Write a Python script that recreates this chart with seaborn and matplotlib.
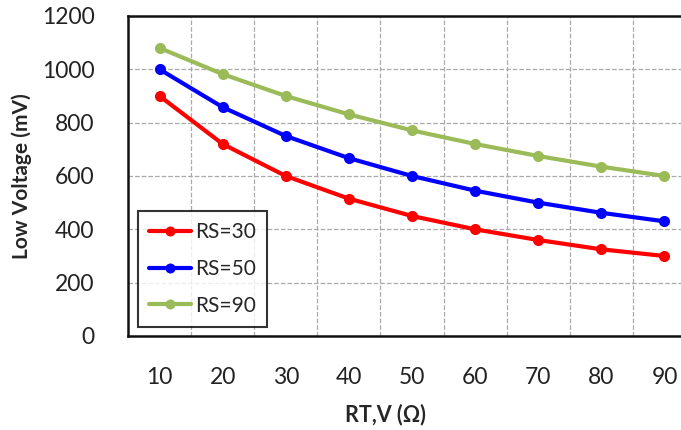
import pandas as pd
import matplotlib.pyplot as plt
import seaborn as sns

# Data
rt_values = [10, 20, 30, 40, 50, 60, 70, 80, 90]
rs30 = [900, 720, 600, 515, 450, 400, 360, 325, 300]
rs50 = [1000, 858, 750, 667, 600, 545, 500, 462, 430]
rs90 = [1080, 982, 900, 831, 771, 720, 675, 635, 600]
series_names = ["RS=30", "RS=50", "RS=90"]
y_ticks = [0, 200, 400, 600, 800, 1000, 1200]

df = pd.DataFrame({
    "RT": rt_values * 3,
    "Voltage": rs30 + rs50 + rs90,
    "Series": [n for n in series_names for _ in rt_values],
})

sns.set_style("white")
plt.rcParams["font.family"] = ["Lato", "DejaVu Sans"]

fig = plt.figure(figsize=(6.81, 4.30), dpi=100)
# axes right edge runs past the image, as in the reference
ax = fig.add_axes([128 / 681, (430 - 336) / 430, (696 - 128) / 681, 320 / 430])

palette = {"RS=30": "#FF0000", "RS=50": "#0000FF", "RS=90": "#9BBB59"}
sns.lineplot(
    data=df, x="RT", y="Voltage", hue="Series", palette=palette,
    marker="o", markersize=8, markeredgewidth=0, linewidth=3, ax=ax,
)

ax.set_xlim(5, 95)
ax.set_ylim(0, 1200)
ax.set_xticks(rt_values)
ax.set_xticks([15, 25, 35, 45, 55, 65, 75, 85], minor=True)
ax.set_yticks(y_ticks)
ax.tick_params(axis="both", which="both", length=0, labelsize=16.5,
               colors="#222222")
ax.tick_params(axis="x", pad=22)
ax.tick_params(axis="y", pad=24)

ax.grid(False)
ax.grid(axis="x", which="minor", color="#aaaaaa", linestyle="--", linewidth=0.9)
ax.grid(axis="y", which="major", color="#aaaaaa", linestyle="--", linewidth=0.9)

for side in ["left", "bottom", "top"]:
    ax.spines[side].set_color("#111111")
    ax.spines[side].set_linewidth(1.8)
ax.spines["right"].set_visible(False)

ax.set_xlabel("RT,V (Ω)", fontsize=15.5, fontweight="bold")
ax.set_ylabel("Low Voltage (mV)", fontsize=15, fontweight="bold")
ax.xaxis.set_label_coords((385 - 128) / 568, -0.21)
ax.yaxis.set_label_coords(-(128 - 32) / 568, 0.5)

leg = ax.legend(
    loc="lower left", bbox_to_anchor=(0.017, 0.028), borderaxespad=0,
    fontsize=15, frameon=True, fancybox=False, handlelength=2.0,
    labelspacing=0.8, borderpad=0.55, handletextpad=0.2,
    markerscale=0.9,
)
leg.get_frame().set_edgecolor("black")
leg.get_frame().set_linewidth(1.5)

plt.savefig("out.png", dpi=100)
